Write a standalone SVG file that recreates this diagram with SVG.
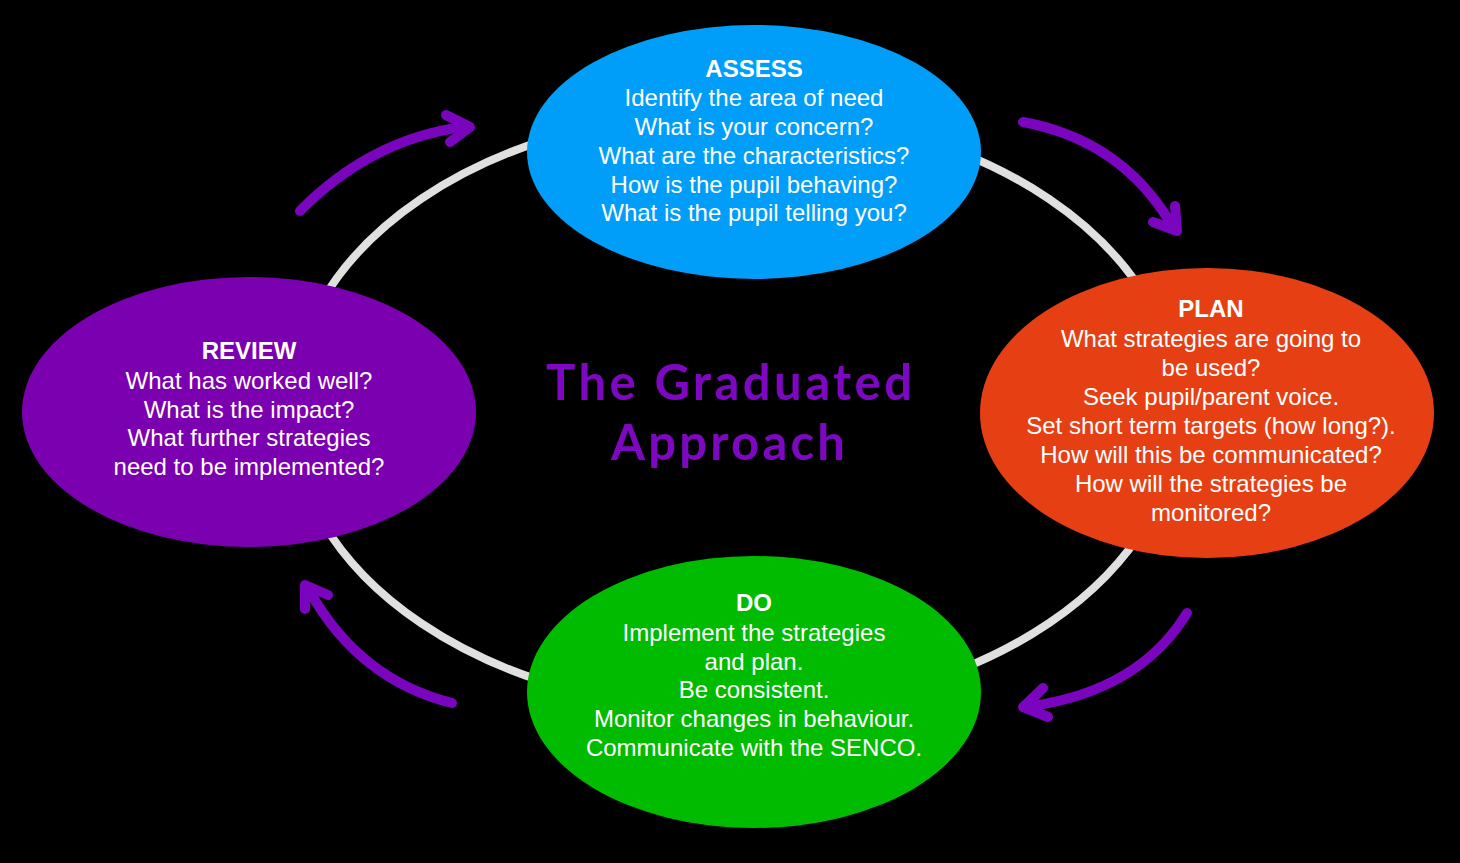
<svg xmlns="http://www.w3.org/2000/svg" width="1460" height="863" viewBox="0 0 1460 863">
<style>
.t{font-family:"Liberation Sans",Arial,sans-serif;font-size:24px;fill:#fff;text-anchor:middle}
.h{font-weight:bold}
.arr{fill:none;stroke:#7B05BE;stroke-width:10;stroke-linecap:round;stroke-linejoin:round}
.title{font-family:Lato,"Noto Sans",sans-serif;font-weight:bold;font-size:49px;fill:#7E07C2;text-anchor:middle}
</style>
<rect width="1460" height="863" fill="#000"/>
<ellipse cx="735" cy="411" rx="444" ry="300" fill="none" stroke="#E0E0E0" stroke-width="8"/>
<g id="connectors">
<path class="arr" d="M300 211 Q370 140 462 127"/>
<path class="arr" d="M446 115 L470 127 L450 142"/>
<path class="arr" d="M1023 122 Q1120 140 1170 222"/>
<path class="arr" d="M1175 206 L1177 231 L1153 222"/>
<path class="arr" d="M1187 613 Q1140 690 1032 706"/>
<path class="arr" d="M1043 688 L1023 707 L1048 717"/>
<path class="arr" d="M452 703 Q360 680 310 592"/>
<path class="arr" d="M305 609 L305 585 L328 595"/>
</g>
<g id="title">
<text class="title" x="729" y="400" textLength="366" lengthAdjust="spacing">The Graduated</text>
<text class="title" x="728" y="460" textLength="234" lengthAdjust="spacing">Approach</text>
</g>
<g id="assess">
<ellipse cx="754" cy="152" rx="227" ry="127" fill="#009EF9"/>
<text class="t h" x="754" y="77">ASSESS</text>
<text class="t" x="754" y="106">Identify the area of need</text>
<text class="t" x="754" y="135">What is your concern?</text>
<text class="t" x="754" y="164">What are the characteristics?</text>
<text class="t" x="754" y="193">How is the pupil behaving?</text>
<text class="t" x="754" y="221">What is the pupil telling you?</text>
</g>
<g id="plan">
<ellipse cx="1207" cy="413" rx="227" ry="145" fill="#E63F14"/>
<text class="t h" x="1211" y="317">PLAN</text>
<text class="t" x="1211" y="347">What strategies are going to</text>
<text class="t" x="1211" y="376">be used?</text>
<text class="t" x="1211" y="405">Seek pupil/parent voice.</text>
<text class="t" x="1211" y="434">Set short term targets (how long?).</text>
<text class="t" x="1211" y="463">How will this be communicated?</text>
<text class="t" x="1211" y="492">How will the strategies be</text>
<text class="t" x="1211" y="521">monitored?</text>
</g>
<g id="do">
<ellipse cx="754" cy="692" rx="227" ry="136" fill="#00BB00"/>
<text class="t h" x="754" y="611">DO</text>
<text class="t" x="754" y="641">Implement the strategies</text>
<text class="t" x="754" y="670">and plan.</text>
<text class="t" x="754" y="698">Be consistent.</text>
<text class="t" x="754" y="727">Monitor changes in behaviour.</text>
<text class="t" x="754" y="756">Communicate with the SENCO.</text>
</g>
<g id="review">
<ellipse cx="249" cy="412" rx="227" ry="135" fill="#7A00B0"/>
<text class="t h" x="249" y="359">REVIEW</text>
<text class="t" x="249" y="389">What has worked well?</text>
<text class="t" x="249" y="418">What is the impact?</text>
<text class="t" x="249" y="446">What further strategies</text>
<text class="t" x="249" y="475">need to be implemented?</text>
</g>
</svg>
